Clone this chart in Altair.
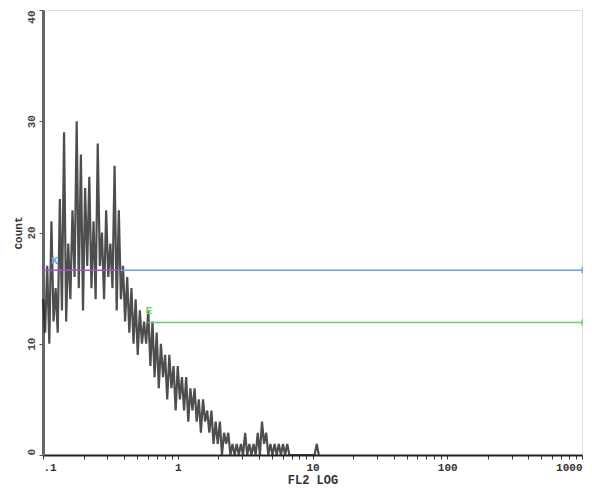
import altair as alt
import pandas as pd

# Histogram counts per channel (256 channels over 4 log decades, starting at 0.1)
counts = [
    14, 11, 17, 10, 21, 12,
    15, 11, 23, 13, 29, 12,
    19, 14, 22, 16, 30, 15,
    27, 13, 24, 17, 25, 15,
    21, 14, 28, 17, 20, 14,
    22, 16, 19, 15, 26, 13,
    22, 14, 17, 12, 16, 11,
    15, 10, 14, 9, 13, 10,
    12, 10, 13, 8, 12, 7,
    11, 6, 10, 7, 9, 5,
    9, 6, 8, 4, 8, 5,
    7, 4, 7, 3, 6, 4,
    6, 3, 5, 2, 5, 3,
    4, 2, 4, 1, 3, 1,
    3, 0, 2, 1, 2, 0,
    1, 0, 1, 0, 1, 0,
    2, 0, 1, 0, 1, 0,
    2, 0, 3, 1, 2, 0,
    1, 0, 1, 0, 1, 0,
    1, 0, 1, 0, 0, 0,
    0, 0, 0, 0, 0, 0,
    0, 0, 0, 0, 1, 0,
]
channels_per_decade = 64
x_start = 0.1

major_ticks = [0.1, 1, 10, 100, 1000]
minor_ticks = [0.2, 0.3, 0.4, 0.5, 0.6, 0.7, 0.8, 0.9,
               2, 3, 4, 5, 6, 7, 8, 9,
               20, 30, 40, 50, 60, 70, 80, 90,
               200, 300, 400, 500, 600, 700, 800, 900]
y_ticks = [0, 10, 20, 30, 40]

# Markers
marker_names = ["K", "E"]
marker_colors = ["#6e9fdc", "#5fd36e"]
marker_start = [0.38, 0.6]
marker_end = [1000, 1000]
marker_level = [16.6, 11.9]
marker_label_x = [0.122, 0.61]
marker_label_y = [17.4, 12.9]

hist = pd.DataFrame({
    "x": [x_start * 10 ** (i / channels_per_decade) for i in range(len(counts))],
    "count": counts,
})

FONT = "Liberation Mono"

xscale = alt.Scale(type="log", domain=[0.1, 1000], nice=False)
yscale = alt.Scale(domain=[0, 40], nice=False)

y_label_align = {
    "condition": [
        {"test": "datum.value == 40", "value": "right"},
        {"test": "datum.value == 0", "value": "left"},
    ],
    "value": "center",
}

line = alt.Chart(hist).mark_line(
    interpolate="linear", color="#222222", strokeWidth=2.2, opacity=0.8
).encode(
    x=alt.X("x:Q", scale=xscale, axis=alt.Axis(
        values=major_ticks + minor_ticks,
        labelExpr="datum.value == 0.1 ? '.1' : (indexof([1,10,100,1000], datum.value) >= 0 ? format(datum.value, 'd') : '')",
        title="FL2 LOG", grid=False, tickSize=4, tickColor="#333",
        domainColor="#222", domainWidth=2,
        labelFont=FONT, labelFontWeight="bold", labelFontSize=11, labelColor="#333",
        titleFont=FONT, titleFontWeight="bold", titleFontSize=12, titleColor="#333",
        titlePadding=2, labelPadding=2, labelFlush=True,
    )),
    y=alt.Y("count:Q", scale=yscale, axis=alt.Axis(
        values=y_ticks, title="Count", grid=False, tickSize=4, tickColor="#555",
        domainColor="#666", domainWidth=3,
        labelAngle=270, labelAlign=y_label_align, labelBaseline="bottom",
        labelFont=FONT, labelFontWeight="bold", labelFontSize=11, labelColor="#444",
        titleFont=FONT, titleFontWeight="bold", titleFontSize=11, titleColor="#333",
        labelPadding=3, titlePadding=2,
    )),
)

mk = pd.DataFrame({
    "name": marker_names, "color": marker_colors,
    "x1": marker_start, "x2": marker_end, "y": marker_level,
    "lx": marker_label_x, "ly": marker_label_y,
})

rules = alt.Chart(mk).mark_rule(strokeWidth=1.5).encode(
    x=alt.X("x1:Q", scale=xscale), x2="x2:Q",
    y=alt.Y("y:Q", scale=yscale),
    color=alt.Color("color:N", scale=None),
)

pre = pd.DataFrame({"x1": [0.1], "x2": [0.38], "y": [16.6]})
pre_rule = alt.Chart(pre).mark_rule(strokeWidth=1.5, color="#a452c4").encode(
    x=alt.X("x1:Q", scale=xscale), x2="x2:Q", y=alt.Y("y:Q", scale=yscale),
)

ends = alt.Chart(mk).mark_tick(size=6, thickness=2, orient="vertical").encode(
    x=alt.X("x2:Q", scale=xscale), y=alt.Y("y:Q", scale=yscale),
    color=alt.Color("color:N", scale=None),
)

labels = alt.Chart(mk).mark_text(
    font=FONT, fontWeight="bold", fontSize=11, align="center", baseline="middle"
).encode(
    x=alt.X("lx:Q", scale=xscale), y=alt.Y("ly:Q", scale=yscale),
    text="name:N", color=alt.Color("color:N", scale=None),
)

chart = alt.layer(line, pre_rule, rules, ends, labels).properties(
    width=539, height=445,
    autosize=alt.AutoSizeParams(type="none"),
    padding={"left": 35, "top": 2, "right": 1, "bottom": 35},
).configure_view(stroke="#222", strokeWidth=2).configure(background="white")

chart.save("out.html", embed_options={"renderer": "svg", "actions": False})
